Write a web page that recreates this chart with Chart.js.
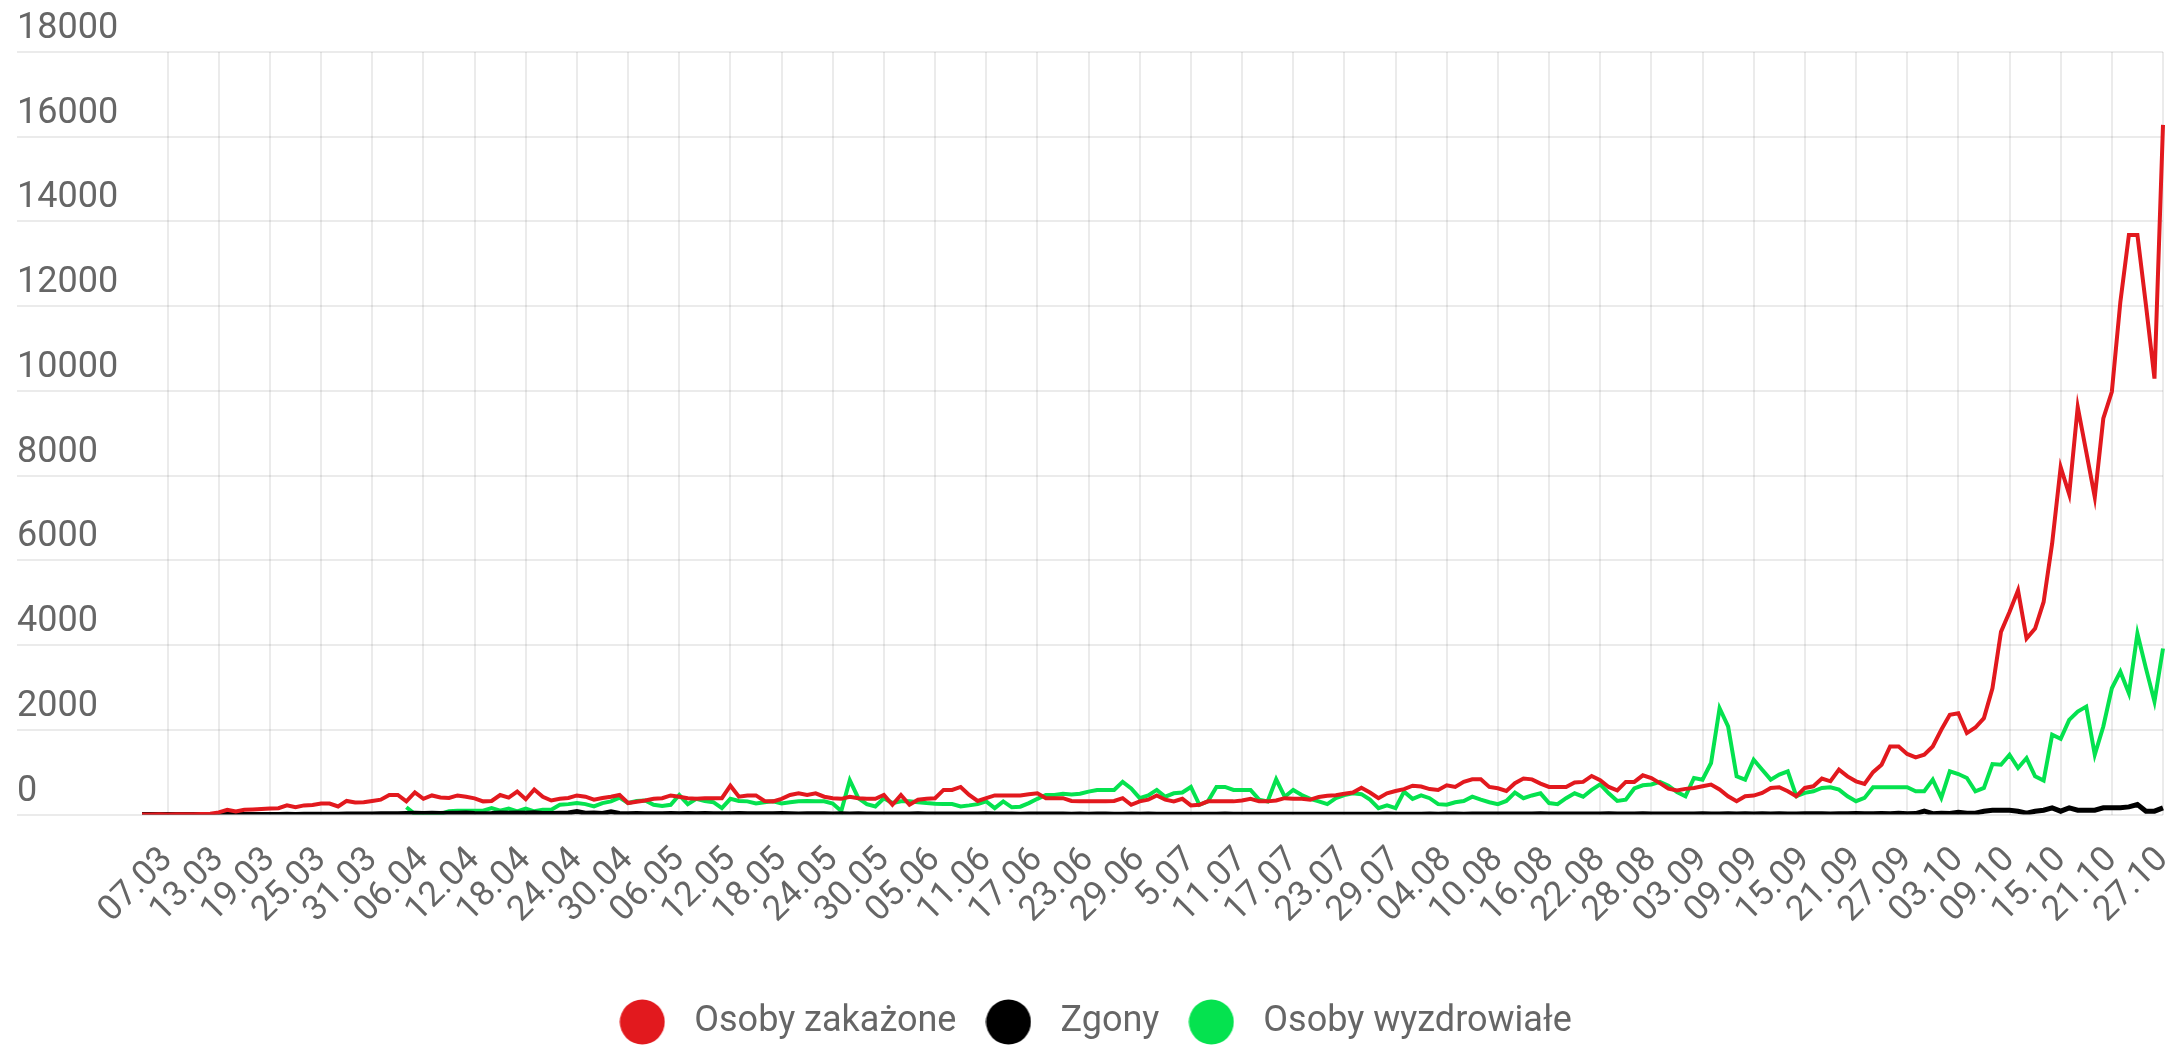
<!DOCTYPE html>
<html>
<head>
  <meta charset="utf-8">
  <title>Osoby zakażone, zgony, wyzdrowiali</title>
  <script src="https://cdn.jsdelivr.net/npm/chart.js@4"></script>
  <style>
    html, body { margin: 0; padding: 0; background: #fff; }
    #wrap { width: 2181px; height: 1046px; }
  </style>
</head>
<body>
  <div id="wrap"><canvas id="chart"></canvas></div>
  <script>
    // daily labels 04.03 - 27.10 (only every 6th one is shown)
    const days = [
      '04.03','05.03','06.03','07.03','08.03','09.03','10.03','11.03','12.03','13.03','14.03','15.03','16.03','17.03',
      '18.03','19.03','20.03','21.03','22.03','23.03','24.03','25.03','26.03','27.03','28.03','29.03','30.03','31.03',
      '01.04','02.04','03.04','04.04','05.04','06.04','07.04','08.04','09.04','10.04','11.04','12.04','13.04','14.04','15.04',
      '16.04','17.04','18.04','19.04','20.04','21.04','22.04','23.04','24.04','25.04','26.04','27.04','28.04','29.04','30.04',
      '01.05','02.05','03.05','04.05','05.05','06.05','07.05','08.05','09.05','10.05','11.05','12.05','13.05','14.05','15.05',
      '16.05','17.05','18.05','19.05','20.05','21.05','22.05','23.05','24.05','25.05','26.05','27.05','28.05','29.05','30.05','31.05',
      '01.06','02.06','03.06','04.06','05.06','06.06','07.06','08.06','09.06','10.06','11.06','12.06','13.06','14.06','15.06',
      '16.06','17.06','18.06','19.06','20.06','21.06','22.06','23.06','24.06','25.06','26.06','27.06','28.06','29.06','30.06',
      '01.07','02.07','03.07','04.07','5.07','06.07','07.07','08.07','09.07','10.07','11.07','12.07','13.07','14.07','15.07',
      '16.07','17.07','18.07','19.07','20.07','21.07','22.07','23.07','24.07','25.07','26.07','27.07','28.07','29.07','30.07','31.07',
      '01.08','02.08','03.08','04.08','05.08','06.08','07.08','08.08','09.08','10.08','11.08','12.08','13.08','14.08','15.08',
      '16.08','17.08','18.08','19.08','20.08','21.08','22.08','23.08','24.08','25.08','26.08','27.08','28.08','29.08','30.08','31.08',
      '01.09','02.09','03.09','04.09','05.09','06.09','07.09','08.09','09.09','10.09','11.09','12.09','13.09','14.09','15.09',
      '16.09','17.09','18.09','19.09','20.09','21.09','22.09','23.09','24.09','25.09','26.09','27.09','28.09','29.09','30.09',
      '01.10','02.10','03.10','04.10','05.10','06.10','07.10','08.10','09.10','10.10','11.10','12.10','13.10','14.10','15.10',
      '16.10','17.10','18.10','19.10','20.10','21.10','22.10','23.10','24.10','25.10','26.10','27.10'
    ];

    const infected = [
      1, 0, 4, 1, 5, 6, 5, 11, 20, 50,
      110, 70, 110, 120, 130, 140, 150, 215, 170, 215,
      225, 260, 260, 190, 320, 285, 290, 320, 350, 460,
      460, 310, 520, 370, 450, 400, 390, 450, 420, 380,
      310, 320, 460, 400, 540, 360, 590, 420, 330, 370,
      390, 450, 420, 350, 390, 420, 460, 270, 300, 330,
      370, 385, 450, 420, 385, 370, 385, 385, 385, 680,
      420, 450, 450, 320, 310, 370, 460, 500, 460, 500,
      420, 385, 370, 420, 385, 370, 370, 460, 230, 460,
      230, 350, 370, 385, 580, 580, 650, 460, 320, 385,
      450, 450, 450, 450, 480, 500, 385, 385, 385, 320,
      310, 310, 310, 310, 320, 385, 230, 310, 350, 450,
      350, 310, 370, 215, 230, 310, 310, 310, 310, 330,
      370, 310, 310, 330, 385, 370, 370, 350, 415, 440,
      455, 490, 520, 630, 520, 385, 500, 555, 600, 680,
      660, 600, 580, 690, 650, 770, 830, 830, 650, 620,
      555, 740, 850, 830, 730, 650, 650, 650, 755, 770,
      910, 810, 650, 570, 770, 770, 925, 860, 740, 610,
      570, 605, 627, 665, 705, 590, 430, 314, 430, 447,
      510, 627, 643, 550, 430, 627, 666, 847, 784, 1058,
      900, 784, 720, 1000, 1176, 1607, 1607, 1430, 1350, 1411,
      1607, 2000, 2352, 2391, 1921, 2054, 2274, 2979, 4312, 4782,
      5292, 4155, 4390, 5018, 6400, 8200, 7560, 9620, 8560, 7490,
      9350, 9980, 12100, 13680, 13680, 12030, 10290, 16280
    ];

    const deaths = [
      0, 0, 0, 0, 0, 0, 0, 0, 1, 0,
      1, 0, 2, 0, 1, 2, 1, 3, 2, 4,
      3, 8, 4, 7, 9, 10, 11, 13, 15, 18,
      20, 24, 28, 22, 30, 26, 32, 28, 36, 24,
      20, 26, 38, 30, 34, 28, 40, 22, 25, 30,
      35, 70, 30, 35, 25, 65, 25, 20, 22, 18,
      20, 15, 25, 18, 22, 20, 24, 16, 18, 20,
      22, 18, 15, 20, 17, 22, 16, 14, 20, 18,
      15, 12, 18, 14, 16, 12, 10, 14, 12, 10,
      12, 15, 10, 14, 11, 9, 13, 10, 12, 15,
      9, 12, 10, 8, 11, 14, 9, 10, 12, 8,
      10, 7, 9, 11, 8, 6, 10, 7, 9, 8,
      6, 5, 8, 7, 4, 6, 5, 9, 6, 5,
      7, 4, 6, 5, 8, 5, 4, 6, 7, 5,
      6, 8, 5, 7, 4, 6, 9, 5, 7, 6,
      8, 10, 7, 9, 12, 8, 10, 14, 9, 11,
      12, 9, 13, 10, 15, 11, 9, 12, 14, 10,
      13, 11, 15, 12, 10, 14, 16, 12, 11, 13,
      10, 14, 12, 16, 11, 13, 15, 12, 17, 14,
      16, 12, 18, 14, 13, 19, 15, 17, 14, 20,
      18, 22, 16, 20, 24, 19, 27, 20, 22, 78,
      20, 30, 25, 55, 28, 32, 78, 100, 100, 100,
      78, 30, 78, 100, 157, 78, 157, 100, 100, 100,
      157, 157, 157, 180, 235, 78, 78, 157
    ];

    const recovered = [
      null, null, null, null, null, null, null, null, null, null,
      null, null, null, null, null, null, null, null, null, null,
      null, null, null, null, null, null, null, null, null, null,
      null, 170, 10, 10, 10, 15, 75, 90, 90, 90,
      90, 150, 90, 140, 75, 140, 75, 115, 115, 230,
      245, 270, 245, 190, 270, 310, 400, 270, 320, 330,
      230, 200, 230, 460, 245, 370, 320, 290, 150, 370,
      320, 310, 260, 290, 310, 260, 290, 310, 320, 310,
      310, 260, 80, 810, 385, 245, 190, 385, 270, 310,
      310, 290, 270, 255, 245, 245, 190, 215, 245, 310,
      150, 310, 170, 185, 270, 370, 460, 460, 490, 475,
      490, 540, 580, 580, 580, 770, 615, 385, 450, 580,
      420, 500, 520, 650, 230, 310, 650, 650, 580, 580,
      580, 350, 310, 830, 420, 580, 460, 370, 310, 245,
      385, 460, 500, 480, 350, 150, 215, 150, 540, 370,
      450, 385, 245, 230, 290, 320, 420, 350, 290, 245,
      320, 520, 385, 450, 500, 270, 245, 385, 500, 420,
      580, 710, 500, 320, 350, 615, 690, 710, 770, 680,
      530, 430, 862, 823, 1215, 2509, 2078, 902, 823, 1293,
      1058, 823, 941, 1019, 431, 510, 549, 627, 643, 588,
      431, 314, 392, 643, 643, 643, 643, 643, 549, 549,
      823, 392, 1019, 956, 862, 549, 627, 1191, 1176, 1411,
      1098, 1333, 902, 800, 1882, 1788, 2235, 2430, 2548, 1411,
      2078, 2979, 3371, 2862, 4273, 3450, 2666, 3920
    ];

    const seriesNames = ['Osoby zakażone', 'Zgony', 'Osoby wyzdrowiałe'];
    const seriesColors = ['#e2191e', '#000000', '#05e24f'];
    const yTicks = [0, 2000, 4000, 6000, 8000, 10000, 12000, 14000, 16000, 18000];

    Chart.defaults.font.family = 'Roboto, "Noto Sans", sans-serif';
    Chart.defaults.color = '#666';

    // round legend markers, drawn as small canvases
    function makeDot(color) {
      const c = document.createElement('canvas');
      c.width = 46;
      c.height = 46;
      const g = c.getContext('2d');
      g.fillStyle = color;
      g.beginPath();
      g.arc(23, 23, 22.5, 0, Math.PI * 2);
      g.fill();
      return c;
    }
    const dots = seriesColors.map(makeDot);

    const gridColor = 'rgba(0,0,0,0.08)';

    const ctx = document.getElementById('chart').getContext('2d');
    new Chart(ctx, {
      type: 'line',
      data: {
        labels: days,
        datasets: [infected, deaths, recovered].map((values, k) => ({
          label: seriesNames[k],
          data: values,
          borderColor: seriesColors[k],
          backgroundColor: seriesColors[k],
          borderWidth: k === 1 ? 5 : 4,
          pointRadius: 0,
          tension: 0,
          fill: false
        }))
      },
      options: {
        responsive: true,
        maintainAspectRatio: false,
        animation: false,
        layout: { padding: { top: 52, left: 17, right: 18, bottom: -4 } },
        plugins: {
          tooltip: { enabled: false },
          legend: {
            position: 'bottom',
            labels: {
              usePointStyle: true,
              pointStyleWidth: 68,
              padding: 18,
              color: '#666',
              font: { size: 36 },
              generateLabels(chart) {
                const items = Chart.defaults.plugins.legend.labels.generateLabels(chart);
                items.forEach((item, k) => { item.pointStyle = dots[k]; });
                return items;
              }
            }
          }
        },
        scales: {
          x: {
            grid: { color: gridColor, lineWidth: 2, drawTicks: false },
            border: { display: false },
            ticks: {
              autoSkip: false,
              minRotation: 45,
              maxRotation: 45,
              padding: 25,
              font: { size: 35 },
              color: '#666',
              callback(value, index) {
                return (index - 3) % 6 === 0 ? days[index] : null;
              }
            },
            afterFit(axis) {
              axis.height = 171.5;
              axis.paddingLeft = 0;
              axis.paddingRight = 0;
            }
          },
          y: {
            min: 0,
            max: 18000,
            grid: { color: gridColor, lineWidth: 2, drawTicks: true, tickLength: 125 },
            border: { display: false },
            ticks: {
              stepSize: 2000,
              crossAlign: 'far',
              labelOffset: -23,
              padding: 0,
              font: { size: 36 },
              color: '#666',
              callback(value) {
                return yTicks.includes(value) ? String(value) : null;
              }
            },
            afterFit(axis) {
              axis.width = 125;
              axis.paddingTop = 0;
              axis.paddingBottom = 0;
            }
          }
        }
      }
    });
  </script>
</body>
</html>
